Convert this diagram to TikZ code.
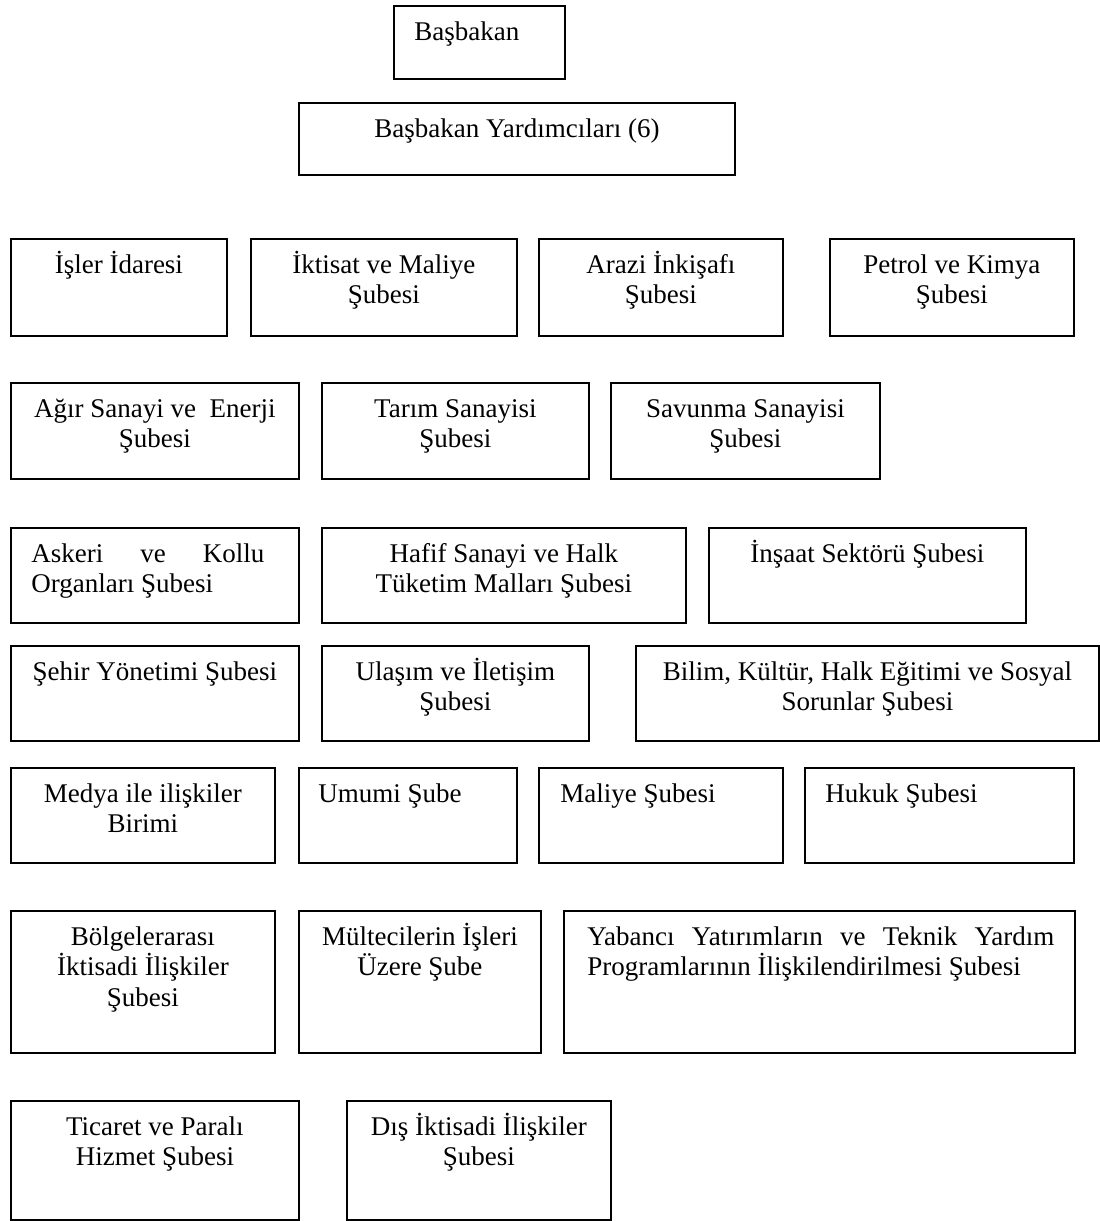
\documentclass[tikz,border=0pt]{standalone}
\usepackage{fontspec}
\setmainfont{Liberation Serif}
\usetikzlibrary{positioning}

\tikzset{
  box/.style 2 args={draw, line width=0.9pt, inner sep=0pt, anchor=north west,
    minimum width=#1, minimum height=#2},
  lbl/.style={inner sep=0pt, anchor=base, text width=300pt, align=flush center,
    font=\fontsize{13.5}{15.25}\selectfont},
  lbll/.style={lbl, anchor=base west, align=flush left}
}

\begin{document}
\begin{tikzpicture}[x=0.5pt, y=-0.5pt]
            \useasboundingbox (0,0) rectangle (1099,1221);
            % top
            \node[box={85.5pt}{36.5pt}] (basbakan) at (393,5) {};
            \node[box={218pt}{36pt}] (yardimci) at (298,102) {};
            \node[lbll] (basbakanT) at ([xshift=10.5pt,yshift=-17.5pt]basbakan.north west) {Başbakan};
            \node[lbl] (yardimciT) at ([yshift=-17.5pt]yardimci.north) {Başbakan Yardımcıları (6)};
            % row 1
            \node[box={108pt}{48.5pt}] (isler) at (10,238) {};
            \node[box={133pt}{48.5pt}] (iktisat) at (250,238) {};
            \node[box={122pt}{48.5pt}] (arazi) at (538,238) {};
            \node[box={122pt}{48.5pt}] (petrol) at (829,238) {};
            \node[lbl] (islerT) at ([yshift=-17.5pt]isler.north) {İşler İdaresi};
            \node[lbl] (iktisatT) at ([yshift=-17.5pt]iktisat.north) {İktisat ve Maliye\\Şubesi};
            \node[lbl] (araziT) at ([yshift=-17.5pt]arazi.north) {Arazi İnkişafı\\Şubesi};
            \node[lbl] (petrolT) at ([yshift=-17.5pt]petrol.north) {Petrol ve Kimya\\Şubesi};
            % row 2
            \node[box={144pt}{48pt}] (agir) at (10,382) {};
            \node[box={133.5pt}{48pt}] (tarim) at (321,382) {};
            \node[box={134.5pt}{48pt}] (savunma) at (610,382) {};
            \node[lbl] (agirT) at ([yshift=-17.5pt]agir.north) {Ağır Sanayi ve~ Enerji\\Şubesi};
            \node[lbl] (tarimT) at ([yshift=-17.5pt]tarim.north) {Tarım Sanayisi\\Şubesi};
            \node[lbl] (savunmaT) at ([yshift=-17.5pt]savunma.north) {Savunma Sanayisi\\Şubesi};
            % row 3
            \node[box={144pt}{47.5pt}] (askeri) at (10,527) {};
            \node[box={182pt}{47.5pt}] (hafif) at (321,527) {};
            \node[box={158.5pt}{47.5pt}] (insaat) at (708,527) {};
            \node[lbll] (askeriT) at ([xshift=10.5pt,yshift=-17.5pt]askeri.north west) {\makebox[116.5pt][s]{\spaceskip=0pt Askeri ve Kollu}\\Organları Şubesi};
            \node[lbl] (hafifT) at ([yshift=-17.5pt]hafif.north) {Hafif Sanayi ve Halk\\Tüketim Malları Şubesi};
            \node[lbl] (insaatT) at ([yshift=-17.5pt]insaat.north) {İnşaat Sektörü Şubesi};
            % row 4
            \node[box={144pt}{47.5pt}] (sehir) at (10,645) {};
            \node[box={133.5pt}{47.5pt}] (ulasim) at (321,645) {};
            \node[box={231.5pt}{47.5pt}] (bilim) at (635,645) {};
            \node[lbl] (sehirT) at ([yshift=-17.5pt]sehir.north) {Şehir Yönetimi Şubesi};
            \node[lbl] (ulasimT) at ([yshift=-17.5pt]ulasim.north) {Ulaşım ve İletişim\\Şubesi};
            \node[lbl] (bilimT) at ([yshift=-17.5pt]bilim.north) {Bilim, Kültür, Halk Eğitimi ve Sosyal\\Sorunlar Şubesi};
            % row 5
            \node[box={132pt}{47.5pt}] (medya) at (10,767) {};
            \node[box={109pt}{47.5pt}] (umumi) at (298,767) {};
            \node[box={122pt}{47.5pt}] (maliye) at (538,767) {};
            \node[box={134.5pt}{47.5pt}] (hukuk) at (804,767) {};
            \node[lbl] (medyaT) at ([yshift=-17.5pt]medya.north) {Medya ile ilişkiler\\Birimi};
            \node[lbll] (umumiT) at ([xshift=10pt,yshift=-17.5pt]umumi.north west) {Umumi Şube};
            \node[lbll] (maliyeT) at ([xshift=11pt,yshift=-17.5pt]maliye.north west) {Maliye Şubesi};
            \node[lbll] (hukukT) at ([xshift=10.5pt,yshift=-17.5pt]hukuk.north west) {Hukuk Şubesi};
            % row 6
            \node[box={132pt}{71pt}] (bolge) at (10,910) {};
            \node[box={121pt}{71pt}] (multeci) at (298,910) {};
            \node[box={255.5pt}{71pt}] (yabanci) at (563,910) {};
            \node[lbl] (bolgeT) at ([yshift=-17.5pt]bolge.north) {Bölgelerarası\\İktisadi İlişkiler\\Şubesi};
            \node[lbl] (multeciT) at ([yshift=-17.5pt]multeci.north) {Mültecilerin İşleri\\Üzere Şube};
            \node[lbll] (yabanciT) at ([xshift=12pt,yshift=-17.5pt]yabanci.north west) {\makebox[233.5pt][s]{\spaceskip=0pt Yabancı Yatırımların ve Teknik Yardım}\\Programlarının İlişkilendirilmesi Şubesi};
            % row 7
            \node[box={144pt}{59.5pt}] (ticaret) at (10,1100) {};
            \node[box={132pt}{59.5pt}] (dis) at (346,1100) {};
            \node[lbl] (ticaretT) at ([yshift=-17.5pt]ticaret.north) {Ticaret ve Paralı\\Hizmet Şubesi};
            \node[lbl] (disT) at ([yshift=-17.5pt]dis.north) {Dış İktisadi İlişkiler\\Şubesi};
        \end{tikzpicture}
\end{document}
